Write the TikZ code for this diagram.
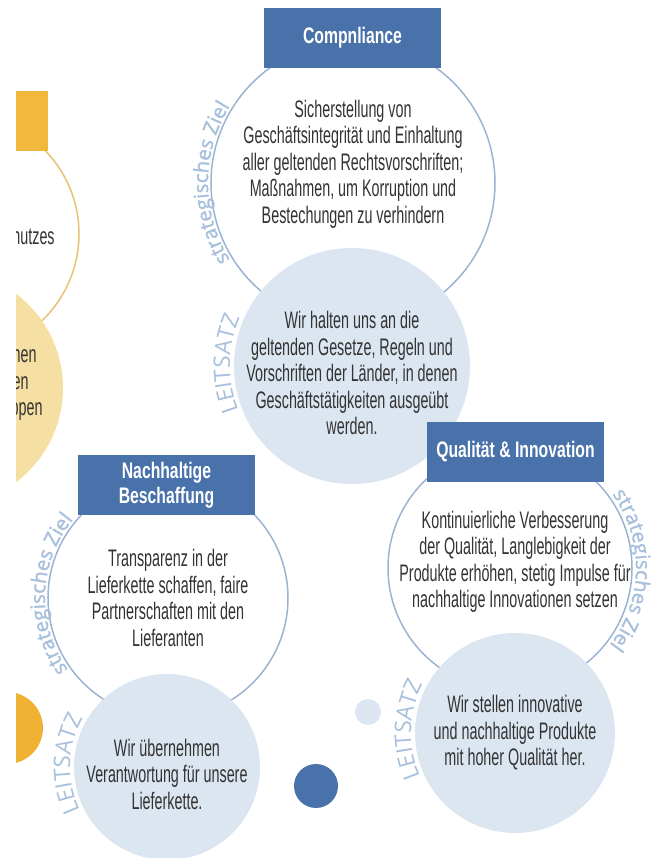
\documentclass[tikz,border=0pt]{standalone}
\usepackage{fontspec}
\setmainfont{Liberation Sans}[FakeStretch=0.6]
\newfontfamily\kopffont{Liberation Sans}[FakeStretch=0.7]
\newfontfamily\bogenfont{Open Sans}[FakeBold=1.6]
\newfontfamily\leitfont{Open Sans}
\usetikzlibrary{decorations.text}

\definecolor{kastenblau}{HTML}{4A72AA}
\definecolor{ringblau}{HTML}{9BB4D4}
\definecolor{satzblau}{HTML}{DCE6F1}
\definecolor{bogenblau}{HTML}{A8C0DC}
\definecolor{textgrau}{HTML}{333333}
\definecolor{orangekasten}{HTML}{F2B83E}
\definecolor{orangering}{HTML}{E8C373}
\definecolor{orangefill}{HTML}{F6DFA2}
\definecolor{orangepunkt}{HTML}{F0B232}

\begin{document}
\begin{tikzpicture}[x=0.2mm, y=0.2mm,
  kasten/.style={rectangle, fill=kastenblau, text=white, minimum width=35.4mm, minimum height=12mm, align=center, font=\kopffont\bfseries\fontsize{12.8}{14.2}\selectfont, inner sep=2pt},
  ring/.style={circle, draw=ringblau, line width=0.3mm, fill=white, inner sep=0pt, minimum size=48mm},
  satz/.style={circle, fill=satzblau, inner sep=0pt},
  txt/.style={align=center, text=textgrau, font=\fontsize{13.6}{15.1}\selectfont, inner sep=0pt},
  zieltext/.style={decorate, decoration={text along path, text align=center, text color=bogenblau,
    text={|\bogenfont\fontsize{11.5}{12}\selectfont|strategisches Ziel}}},
  leittext/.style={decorate, decoration={text along path, text align=center, text color=bogenblau,
    text={|\leitfont\fontsize{13}{14}\selectfont|LEITSATZ}}}
]
  \useasboundingbox (0,0) rectangle (671,858);

  % angeschnittene Spalte links
  \begin{scope}
    \clip (16,0) rectangle (200,858);
    \node[ring, draw=orangering]                 (altring)  at (-41,624) {};
    \node[satz, fill=orangefill, minimum size=47.2mm] (altsatz) at (-55,470) {};
    \node[kasten, fill=orangekasten]             (altbox)   at (-40.5,737) {};
    \node[txt, anchor=east]                      (altziel)  at (55,621) {nutzes};
    \node[txt, anchor=east, align=right]         (altleit)  at (43,475) {hen\mbox{\hspace{1.2mm}}\\en\mbox{\hspace{2.8mm}}\\ppen};
    \node[circle, fill=orangepunkt, inner sep=0pt, minimum size=14.4mm] (altpunkt) at (7,130) {};
  \end{scope}

  % Compliance
  \node[ring, minimum size=56.8mm]  (compring) at (353,675) {};
  \node[satz, minimum size=47.2mm]  (compsatz) at (352,492) {};
  \node[kasten]                     (compbox)  at (352.5,820) {Compnliance};
  \node[txt] (compziel) at (353,694) {Sicherstellung von\\Geschäftsintegrität und Einhaltung\\aller geltenden Rechtsvorschriften;\\Maßnahmen, um Korruption und\\Bestechungen zu verhindern};
  \node[txt] (compleit) at (352,485) {Wir halten uns an die\\geltenden Gesetze, Regeln und\\Vorschriften der Länder, in denen\\Geschäftstätigkeiten ausgeübt\\werden.};
  \path[zieltext] (compring.center) ++(215:29mm) arc[start angle=215, end angle=145, radius=29mm];
  \path[leittext] (compsatz.center) ++(210:24.4mm) arc[start angle=210, end angle=148, radius=24.4mm];

  % Nachhaltige Beschaffung
  \node[ring]                       (nachring) at (168,260) {};
  \node[satz, minimum size=37.2mm]  (nachsatz) at (167,91) {};
  \node[kasten]                     (nachbox)  at (166.5,372.5) {Nachhaltige\\Beschaffung};
  \node[txt] (nachziel) at (168,260) {Transparenz in der\\Lieferkette schaffen, faire\\Partnerschaften mit den\\Lieferanten};
  \node[txt] (nachleit) at (167,84) {Wir übernehmen\\Verantwortung für unsere\\Lieferkette.};
  \path[zieltext] (nachring.center) ++(216:24.6mm) arc[start angle=216, end angle=140, radius=24.6mm];
  \path[leittext] (nachsatz.center) ++(212:19.4mm) arc[start angle=212, end angle=144, radius=19.4mm];

  % Qualitaet & Innovation
  \node[ring, minimum size=48.8mm]  (qualring) at (510,290) {};
  \node[satz, minimum size=40mm]    (qualsatz) at (515,125) {};
  \node[kasten]                     (qualbox)  at (515.5,406) {Qualität \& Innovation};
  \node[txt] (qualziel) at (515,296) {Kontinuierliche Verbesserung\\der Qualität, Langlebigkeit der\\Produkte erhöhen, stetig Impulse für\\nachhaltige Innovationen setzen};
  \node[txt] (qualleit) at (515,125) {Wir stellen innovative\\und nachhaltige Produkte\\mit hoher Qualität her.};
  \path[zieltext] (qualring.center) ++(38:25.2mm) arc[start angle=38, end angle=-40, radius=25.2mm];
  \path[leittext] (qualsatz.center) ++(210:20.8mm) arc[start angle=210, end angle=146, radius=20.8mm];

  % Punkte
  \node[satz, minimum size=5.2mm]  (punktklein) at (368,146) {};
  \node[circle, fill=kastenblau, inner sep=0pt, minimum size=8.8mm] (punktgross) at (316,72) {};
\end{tikzpicture}
\end{document}
